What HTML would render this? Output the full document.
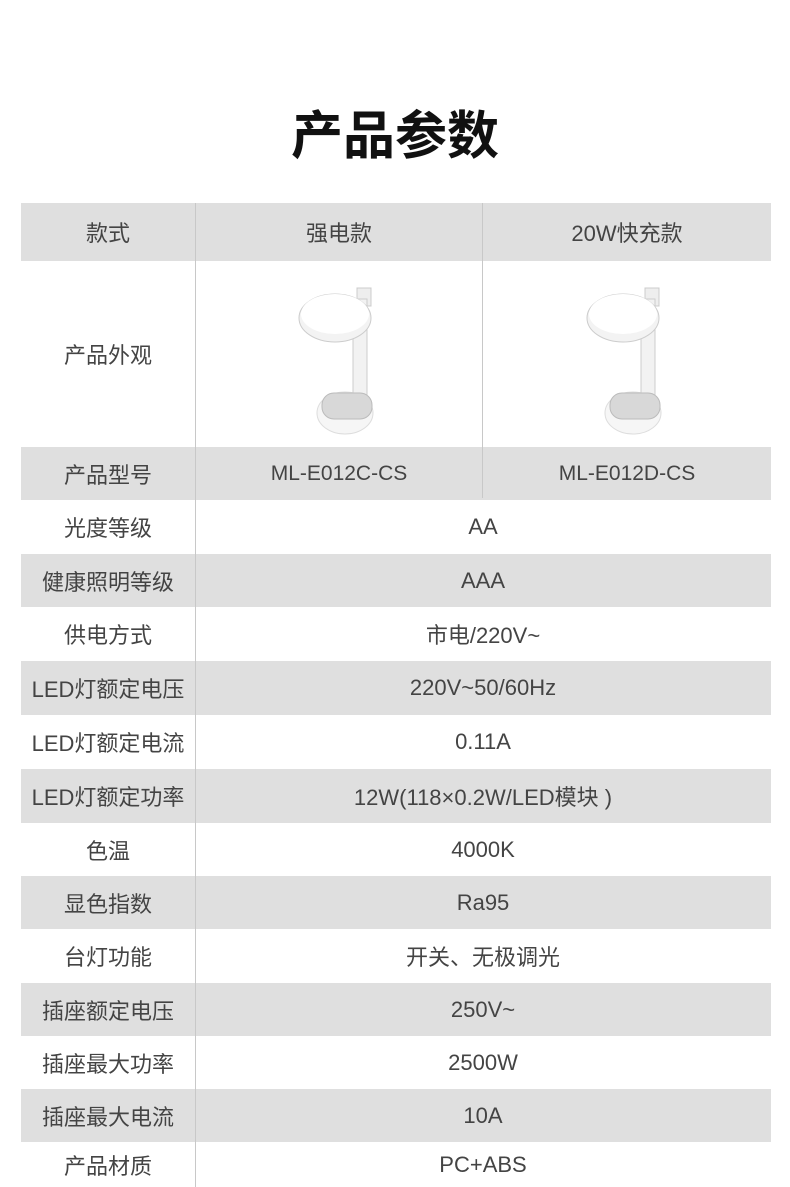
<!DOCTYPE html>
<html><head><meta charset="utf-8"><style>
body{margin:0;width:790px;height:1187px;background:#fff;position:relative;overflow:hidden;font-family:"Liberation Sans","Noto Sans CJK SC",sans-serif;color:#444}
.t{position:absolute;left:0;width:790px;top:102px;text-align:center;font-size:52px;font-weight:bold;color:#111;line-height:70px}
.r{position:absolute;left:21px;width:750px;}
.g{background:#dfdfdf}
.c{position:absolute;top:0;bottom:0;display:flex;align-items:center;justify-content:center;font-size:22px;white-space:nowrap}
.vl{position:absolute;width:1px;background:#c8c8c8}
</style></head><body>
<div class="t">产品参数</div>
<div class="r g" style="top:203px;height:58px"><div class="c" style="left:0;width:174px">款式</div><div class="c" style="left:174px;width:288px">强电款</div><div class="c" style="left:462px;width:288px">20W快充款</div></div>
<div class="r" style="top:261px;height:186px"><div class="c" style="left:0;width:174px">产品外观</div></div>
<svg style="position:absolute;left:295px;top:285px" width="100" height="155" viewBox="0 0 100 155">
<rect x="62" y="3" width="14" height="18" fill="#eee" stroke="#ccc"/>
<polygon points="58,14 72,14 72,128 58,128" fill="#f2f2f2" stroke="#ccc"/>
<ellipse cx="50" cy="128" rx="28" ry="21" fill="#f6f6f6" stroke="#ddd"/>
<rect x="27" y="108" width="50" height="26" rx="12" fill="#d8d8d8" stroke="#bbb"/>
<ellipse cx="40" cy="33" rx="36" ry="24" fill="#f3f3f3" stroke="#ccc"/>
<ellipse cx="40" cy="29" rx="34" ry="20" fill="#fff"/>
</svg>
<svg style="position:absolute;left:583px;top:285px" width="100" height="155" viewBox="0 0 100 155">
<rect x="62" y="3" width="14" height="18" fill="#eee" stroke="#ccc"/>
<polygon points="58,14 72,14 72,128 58,128" fill="#f2f2f2" stroke="#ccc"/>
<ellipse cx="50" cy="128" rx="28" ry="21" fill="#f6f6f6" stroke="#ddd"/>
<rect x="27" y="108" width="50" height="26" rx="12" fill="#d8d8d8" stroke="#bbb"/>
<ellipse cx="40" cy="33" rx="36" ry="24" fill="#f3f3f3" stroke="#ccc"/>
<ellipse cx="40" cy="29" rx="34" ry="20" fill="#fff"/>
</svg>
<div class="r g" style="top:447px;height:53px"><div class="c" style="left:0;width:174px">产品型号</div><div class="c" style="left:174px;width:288px;font-size:21px">ML-E012C-CS</div><div class="c" style="left:462px;width:288px;font-size:21px">ML-E012D-CS</div></div>
<div class="vl" style="left:482px;top:203px;height:295px"></div>
<div class="r" style="top:500px;height:54px"><div class="c" style="left:0;width:174px">光度等级</div><div class="c" style="left:174px;width:576px">AA</div></div>
<div class="r g" style="top:554px;height:53px"><div class="c" style="left:0;width:174px">健康照明等级</div><div class="c" style="left:174px;width:576px">AAA</div></div>
<div class="r" style="top:607px;height:54px"><div class="c" style="left:0;width:174px">供电方式</div><div class="c" style="left:174px;width:576px">市电/220V~</div></div>
<div class="r g" style="top:661px;height:54px"><div class="c" style="left:0;width:174px">LED灯额定电压</div><div class="c" style="left:174px;width:576px">220V~50/60Hz</div></div>
<div class="r" style="top:715px;height:54px"><div class="c" style="left:0;width:174px">LED灯额定电流</div><div class="c" style="left:174px;width:576px">0.11A</div></div>
<div class="r g" style="top:769px;height:54px"><div class="c" style="left:0;width:174px">LED灯额定功率</div><div class="c" style="left:174px;width:576px">12W(118×0.2W/LED模块 )</div></div>
<div class="r" style="top:823px;height:53px"><div class="c" style="left:0;width:174px">色温</div><div class="c" style="left:174px;width:576px">4000K</div></div>
<div class="r g" style="top:876px;height:53px"><div class="c" style="left:0;width:174px">显色指数</div><div class="c" style="left:174px;width:576px">Ra95</div></div>
<div class="r" style="top:929px;height:54px"><div class="c" style="left:0;width:174px">台灯功能</div><div class="c" style="left:174px;width:576px">开关、无极调光</div></div>
<div class="r g" style="top:983px;height:53px"><div class="c" style="left:0;width:174px">插座额定电压</div><div class="c" style="left:174px;width:576px">250V~</div></div>
<div class="r" style="top:1036px;height:53px"><div class="c" style="left:0;width:174px">插座最大功率</div><div class="c" style="left:174px;width:576px">2500W</div></div>
<div class="r g" style="top:1089px;height:53px"><div class="c" style="left:0;width:174px">插座最大电流</div><div class="c" style="left:174px;width:576px">10A</div></div>
<div class="r" style="top:1142px;height:45px"><div class="c" style="left:0;width:174px">产品材质</div><div class="c" style="left:174px;width:576px">PC+ABS</div></div>
<div class="vl" style="left:195px;top:203px;height:984px"></div>
</body></html>
